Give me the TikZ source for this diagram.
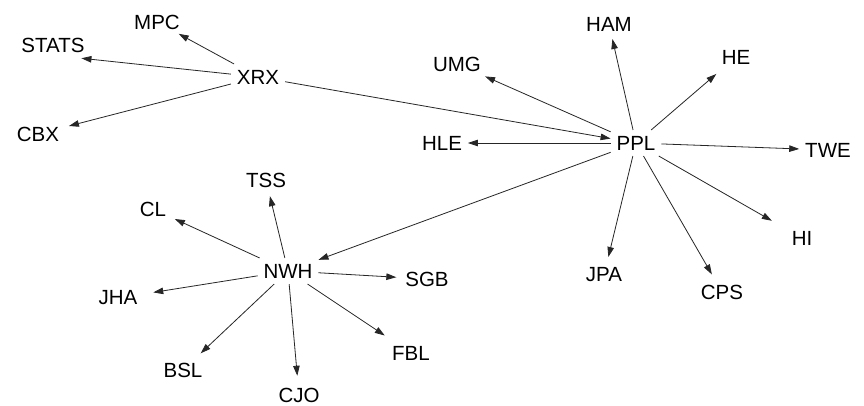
\documentclass[tikz,border=0pt]{standalone}
\usepackage{fontspec}
\setmainfont{Liberation Sans}
\usetikzlibrary{arrows.meta}
\begin{document}
\begin{tikzpicture}[x=1pt,y=-1pt,
  actor/.style={inner sep=6pt,outer sep=0pt,font=\fontsize{20.5}{24}\selectfont,text=black},
  tie/.style={draw=black!85,line width=0.8pt,-{Triangle[length=10pt,width=6.5pt]}}]
\useasboundingbox[fill=white] (0,0) rectangle (864,405);
% actors
\node[actor] (XRX)   at (258,77)  {XRX};
\node[actor] (MPC)   at (157,22)  {MPC};
\node[actor] (STATS) at (53,45)   {STATS};
\node[actor] (CBX)   at (38,134)  {CBX};
\node[actor] (PPL)   at (636,143) {PPL};
\node[actor] (HAM)   at (609,24)  {HAM};
\node[actor] (UMG)   at (457,64)  {UMG};
\node[actor] (HE)    at (736,57)  {HE};
\node[actor] (HLE)   at (442,143) {HLE};
\node[actor] (TWE)   at (828,150) {TWE};
\node[actor] (HI)    at (802,238) {HI};
\node[actor] (CPS)   at (722,292) {CPS};
\node[actor] (JPA)   at (604,275) {JPA};
\node[actor] (NWH)   at (288,271) {NWH};
\node[actor] (TSS)   at (266,180) {TSS};
\node[actor] (CL)    at (153,209) {CL};
\node[actor] (SGB)   at (427,279) {SGB};
\node[actor] (JHA)   at (118,298) {JHA};
\node[actor] (BSL)   at (183,370) {BSL};
\node[actor] (FBL)   at (411,353) {FBL};
\node[actor] (CJO)   at (299,395) {CJO};
% ties out of XRX
\draw[tie,shorten >=-3pt] (XRX) -- (MPC);
\draw[tie] (XRX) -- (STATS.-25);
\draw[tie,shorten >=4pt] (XRX) -- (CBX);
\draw[tie] (XRX) -- (PPL);
% ties out of PPL
\draw[tie,shorten >=2pt] (PPL) -- (HAM);
\draw[tie,shorten >=-2pt] (PPL) -- (UMG);
\draw[tie,shorten >=6pt] (PPL) -- (HE);
\draw[tie] (PPL) -- (HLE);
\draw[tie] (PPL) -- (TWE);
\draw[tie,shorten >=16pt] (PPL) -- (HI);
\draw[tie,shorten >=5pt] (PPL) -- (CPS);
\draw[tie,shorten >=5pt] (PPL) -- (JPA);
\draw[tie] (PPL) -- (NWH);
% ties out of NWH
\foreach \t/\s in {TSS/3pt,CL/3pt,SGB/3pt,JHA/10pt,BSL/5pt,FBL/8pt,CJO/6pt}
  \draw[tie,shorten >=\s] (NWH) -- (\t);
\end{tikzpicture}
\end{document}
